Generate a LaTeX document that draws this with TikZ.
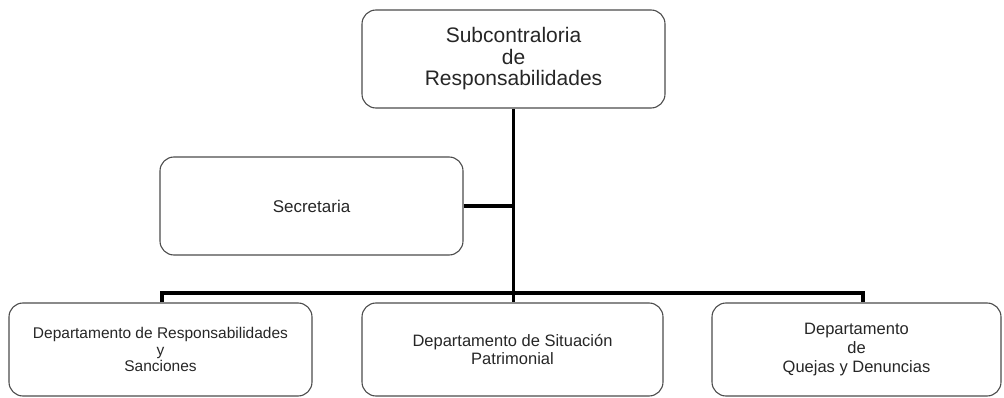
\documentclass[tikz,border=0pt]{standalone}
\usepackage{fontspec}
\setmainfont{Liberation Sans}
\usetikzlibrary{calc}

\begin{document}
\begin{tikzpicture}[
  x=1pt, y=-1pt,
  unit/.style={rectangle, draw=black!70, line width=1.1pt, rounded corners=14pt,
    inner sep=0pt, align=center, text=black!85, minimum width=303pt},
  head/.style={unit, minimum height=98pt, font=\fontsize{21}{21.5}\selectfont},
  dept/.style={unit, minimum height=93pt, font=\fontsize{16.5}{17.5}\selectfont},
  link/.style={draw, line width=3.5pt}
]
\useasboundingbox (0,0) rectangle (1004,398);
\node[head] (sub) at (513.5,59) {Subcontraloria\\de\\Responsabilidades};
\node[head, font=\fontsize{17}{18}\selectfont] (sec) at (311.5,206) {Secretaria};
\node[dept, font=\fontsize{15.5}{16.5}\selectfont] (dresp) at (160.5,349.5) {Departamento de Responsabilidades\\y\\Sanciones};
\node[dept, minimum width=301pt] (dsit) at (512.5,349.5) {Departamento de Situación\\Patrimonial};
\node[dept, minimum width=289pt, font=\fontsize{16.5}{19}\selectfont] (dquej) at (856.5,349.5) {Departamento\\de\\Quejas y Denuncias};
\coordinate (busl) at (162,293);
\coordinate (busr) at (863,293);

\draw[link] (sub.south) -- (sub.south |- dsit.north);
\draw[link] (sec.east) -- (sec.east -| sub.south);
\draw[link, line join=miter] (busl |- dresp.north) -- (busl) -- (busr) -- (busr |- dquej.north);
\end{tikzpicture}
\end{document}
